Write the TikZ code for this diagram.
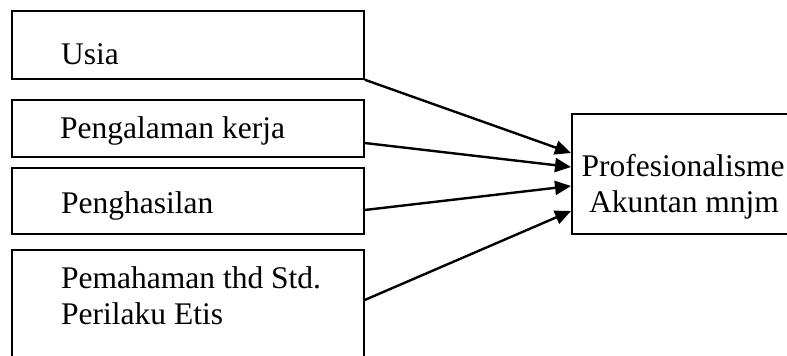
\documentclass[tikz,border=0pt]{standalone}
\usepackage{fontspec}
\setmainfont{Liberation Serif}
\usetikzlibrary{arrows.meta}
\begin{document}
\begin{tikzpicture}[x=1pt,y=-1pt,
  box/.style={draw, line width=1.7pt, rectangle, anchor=north west, inner sep=0pt},
  lbl/.style={anchor=base west, inner sep=0pt, font=\fontsize{31.5}{36}\selectfont},
  link/.style={line width=2.4pt, -{Triangle[length=16pt,width=14pt]}}]
\useasboundingbox (0,0) rectangle (787,356);
\clip (0,0) rectangle (787,356);
\fill[white] (0,0) rectangle (787,356);

% input boxes
\node[box, minimum width=352pt, minimum height=68pt] (b1) at (11,10) {};
\node[box, minimum width=352pt, minimum height=57pt] (b2) at (11,99) {};
\node[box, minimum width=352pt, minimum height=66pt] (b3) at (11,167) {};
\node[box, minimum width=352pt, minimum height=130pt] (b4) at (11,249) {};
% outcome box
\node[box, minimum width=240pt, minimum height=120pt] (r) at (571,113) {};

% labels
\node[lbl] (t1) at (61,64) {Usia};
\node[lbl] (t2) at (60,138) {Pengalaman kerja};
\node[lbl] (t3) at (61,213) {Penghasilan};
\node[lbl] (t4) at (61,288) {Pemahaman thd Std.};
\node[lbl] (t5) at (61,324) {Perilaku Etis};
\node[lbl, anchor=base] (t6) at (683,176) {Profesionalisme};
\node[lbl, anchor=base] (t7) at (684,212) {Akuntan mnjm};

% arrows
\draw[link] (b1.south east) -- ([yshift=-40pt]r.north west);
\draw[link] ([yshift=-44pt]b2.north east) -- ([yshift=-54pt]r.north west);
\draw[link] ([yshift=-43pt]b3.north east) -- ([yshift=-73pt]r.north west);
\draw[link] ([yshift=-51pt]b4.north east) -- ([yshift=-98pt]r.north west);
\end{tikzpicture}
\end{document}
